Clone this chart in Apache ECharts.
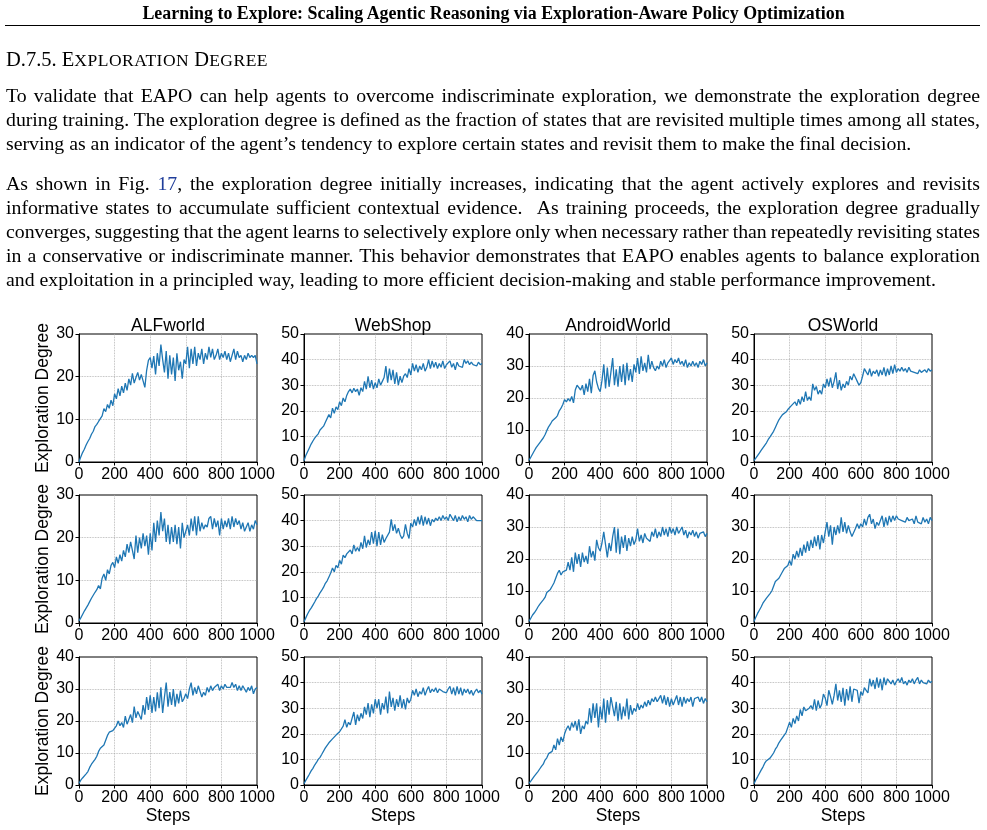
<!DOCTYPE html>
<html>
<head>
<meta charset="utf-8">
<script src="https://cdn.jsdelivr.net/npm/echarts@6/dist/echarts.min.js"></script>
<style>
  body { margin: 0; background: #fff; }
  #chart { position: absolute; left: 0; top: 0; width: 987px; height: 830px; }
  .t { position: absolute; left: 6px; width: 974px; height: 24px; line-height: 24px;
       font-family: 'Liberation Serif', 'Times New Roman', serif; font-size: 19.8px; color: #000; white-space: nowrap; }
  .j { text-align: justify; text-align-last: justify; white-space: normal; }
  .tight { word-spacing: -2.5px; }
  .head { position: absolute; left: 0; top: 3px; width: 987px; text-align: center; line-height: 20px;
          font-family: 'Liberation Serif', 'Times New Roman', serif; font-weight: bold; font-size: 17.9px; }
  .rule { position: absolute; left: 5px; top: 25px; width: 975px; border-top: 1.5px solid #000; }
  .sec { position: absolute; left: 6px; top: 47px; line-height: 24px; white-space: nowrap;
         font-family: 'Liberation Serif', 'Times New Roman', serif; font-size: 20.5px; }
  .sc { font-size: 17.5px; letter-spacing: 0.5px; }
  .ref { color: #1f3d9a; }
</style>
</head>
<body>
<div id="chart"></div>
<div class="head">Learning to Explore: Scaling Agentic Reasoning via Exploration-Aware Policy Optimization</div>
<div class="rule"></div>
<div class="sec">D.7.5. E<span class="sc">XPLORATION</span> D<span class="sc">EGREE</span></div>
<div class="t j" style="top:83px">To validate that EAPO can help agents to overcome indiscriminate exploration, we demonstrate the exploration degree</div>
<div class="t j" style="top:107px">during training. The exploration degree is defined as the fraction of states that are revisited multiple times among all states,</div>
<div class="t" style="top:131px">serving as an indicator of the agent’s tendency to explore certain states and revisit them to make the final decision.</div>
<div class="t j" style="top:171px">As shown in Fig. <span class="ref">17</span>, the exploration degree initially increases, indicating that the agent actively explores and revisits</div>
<div class="t j" style="top:195px">informative states to accumulate sufficient contextual evidence. &nbsp;As training proceeds, the exploration degree gradually</div>
<div class="t j tight" style="top:219px">converges, suggesting that the agent learns to selectively explore only when necessary rather than repeatedly revisiting states</div>
<div class="t j" style="top:243px">in a conservative or indiscriminate manner. This behavior demonstrates that EAPO enables agents to balance exploration</div>
<div class="t" style="top:267px">and exploitation in a principled way, leading to more efficient decision-making and stable performance improvement.</div>
<script>
// x positions: one reading every 10 steps
const steps = [];
for (let s = 0; s <= 1000; s += 10) steps.push(s);

const titles = ['ALFworld', 'WebShop', 'AndroidWorld', 'OSWorld'];
const yMax = [[30, 50, 40, 50], [30, 50, 40, 40], [40, 50, 40, 50]];

// row 1
const alfworld1 = [0,1.2,2.2,3.0,4.0,4.8,5.5,6.5,7.2,8.3,8.8,9.5,9.2,10.8,12.5,11.8,13.5,12.6,14.5,13.2,
  16.0,14.8,17.2,15.5,17.8,16.2,18.5,16.8,19.5,18.0,20.8,18.5,19.8,21.0,19.2,20.5,19.0,17.5,21.5,23.8,
  24.5,22.0,24.8,20.5,25.5,22.5,27.5,24.0,21.0,26.0,19.5,25.0,20.5,24.5,19.0,25.5,21.5,23.5,19.5,24.0,
  23.0,27.0,22.0,26.5,23.0,27.0,22.5,25.5,24.0,26.5,23.0,25.5,24.0,27.0,24.5,26.5,24.0,25.0,26.5,24.0,
  25.5,24.5,26.0,24.0,25.5,23.5,25.0,26.5,24.0,26.0,24.5,25.0,23.5,25.0,24.0,25.5,24.5,25.0,24.5,25.0,23.0];
const webshop1 = [0.5,2.5,4.0,5.5,7.0,8.2,9.3,10.2,11.0,12.5,13.2,14.0,15.5,16.2,18.5,17.2,21.0,19.0,21.5,20.5,
  23.5,22.0,25.0,23.5,26.0,27.5,28.5,27.0,28.8,27.5,28.5,26.0,29.0,27.5,31.5,28.5,33.5,29.0,32.0,28.5,
  31.0,29.0,32.5,30.0,31.5,33.0,37.5,31.0,36.5,32.0,36.0,30.5,35.0,30.0,33.5,31.0,33.5,34.5,33.0,36.5,
  34.0,38.5,35.5,38.0,35.0,37.5,36.0,38.5,35.5,37.0,40.0,36.5,39.5,37.0,39.0,36.5,38.5,37.0,39.5,36.5,
  38.0,37.5,39.5,37.0,38.5,36.0,39.0,37.5,38.0,37.0,40.0,38.5,39.5,38.0,39.0,38.0,38.5,37.5,39.0,38.0,38.5];
const android1 = [0.5,1.5,2.5,3.5,4.5,5.0,6.0,6.5,7.5,8.5,9.8,11.0,11.8,12.8,12.5,13.8,14.5,16.0,16.8,18.0,
  19.5,18.8,19.8,19.0,20.5,18.5,22.5,24.0,23.5,22.5,24.0,21.0,24.5,22.0,26.0,21.5,27.0,28.5,25.0,23.0,
  22.0,25.5,30.5,23.0,29.5,23.5,28.0,32.5,24.0,29.0,23.5,30.0,25.0,30.5,24.0,31.0,25.5,29.0,25.0,30.5,
  28.0,32.5,27.5,33.0,28.5,31.0,28.0,33.5,29.0,31.5,29.5,28.5,30.0,29.0,31.5,30.0,32.0,29.5,31.0,30.5,
  32.5,30.5,32.0,31.0,32.5,30.5,31.5,30.0,32.0,29.5,31.0,30.0,31.5,30.0,31.0,29.5,31.5,30.5,32.0,30.0,31.0];
const osworld1 = [0.5,1.5,2.5,3.5,4.5,5.5,6.5,7.5,8.8,9.8,10.5,12.0,13.5,15.0,16.5,17.5,18.5,17.8,19.5,20.5,
  21.0,22.0,21.5,23.5,22.0,24.5,22.5,25.5,23.5,27.5,24.0,25.5,24.0,30.5,28.0,29.5,26.5,28.0,26.5,30.5,
  29.0,32.5,29.5,33.0,29.0,31.5,35.0,28.5,32.0,28.0,30.5,29.0,31.5,30.0,33.5,32.0,34.5,33.0,31.5,30.0,
  31.0,33.5,36.5,37.0,34.0,36.5,33.5,35.5,34.5,36.0,33.5,36.0,34.0,37.0,33.5,36.5,34.0,37.5,34.5,38.0,
  35.0,36.5,35.5,37.0,35.5,36.5,35.0,37.0,35.5,36.0,35.0,35.5,34.5,36.0,35.0,34.5,36.0,35.0,36.5,35.5,36.0];

// row 2
const alfworld2 = [0.5,1.2,2.0,2.8,3.5,4.2,5.0,5.8,6.5,7.2,7.8,8.8,8.0,10.5,11.5,10.0,12.5,11.5,13.5,14.2,
  13.0,15.5,14.0,16.0,14.5,17.0,15.5,18.5,16.5,19.0,17.0,15.0,20.5,16.5,20.0,17.5,21.0,18.0,20.5,16.0,
  21.0,17.0,23.5,19.0,24.0,20.5,26.0,21.5,24.5,19.0,23.0,18.5,22.5,19.0,23.0,18.5,22.5,17.5,23.5,20.0,
  21.5,23.0,20.5,24.5,21.5,25.0,20.5,25.0,21.5,23.5,22.0,23.0,22.5,24.5,25.0,22.0,24.5,22.5,24.0,20.5,
  24.5,22.0,24.0,22.5,24.5,22.0,25.0,22.5,24.5,23.0,24.0,22.0,23.5,21.5,22.5,23.5,21.5,23.0,22.0,24.0,23.0];
const webshop2 = [0.5,2.0,3.5,4.8,5.8,7.0,8.2,9.5,10.5,11.8,12.8,14.0,15.5,16.5,18.0,19.5,21.5,20.0,22.5,21.5,
  24.5,23.0,26.5,25.5,27.0,26.5,28.5,27.0,30.5,28.0,29.5,28.0,31.5,29.0,34.0,29.5,32.5,30.5,35.5,31.0,
  36.0,30.0,35.5,30.5,34.5,31.5,33.0,32.5,35.5,40.5,36.0,38.5,35.0,37.0,34.5,33.0,34.0,38.5,35.0,33.0,
  39.0,37.5,40.5,38.0,41.5,38.5,42.0,38.0,41.5,38.5,41.0,38.0,40.5,39.5,41.0,40.0,41.5,40.0,42.0,40.5,
  41.5,40.0,42.5,43.0,40.0,42.0,39.5,41.5,40.0,42.0,40.5,41.5,39.5,42.0,40.5,41.5,41.0,40.0,40.5,40.0,40.0];
const android2 = [0.5,1.5,2.5,3.2,4.0,5.0,5.8,6.5,7.2,8.0,9.5,9.8,10.5,11.5,12.5,14.0,15.5,16.5,15.0,16.0,
  15.5,16.5,19.0,16.5,20.5,16.0,22.0,18.5,21.5,17.5,22.0,19.0,21.0,18.5,24.0,20.5,22.5,19.5,26.0,23.5,
  22.5,25.0,28.5,24.5,20.5,25.0,22.5,27.0,30.0,22.0,29.5,21.5,27.0,23.5,27.5,22.5,26.5,24.0,27.0,24.5,
  26.0,29.5,25.5,27.5,25.0,28.0,26.5,27.0,25.5,28.5,27.0,29.5,26.5,28.5,27.0,30.0,27.5,29.5,27.0,30.0,
  28.0,29.5,27.5,30.0,28.0,29.0,30.0,27.5,29.0,26.5,28.5,27.5,29.0,27.0,28.5,26.5,28.0,27.5,28.5,27.0,28.0];
const osworld2 = [0.5,1.8,3.0,4.0,5.0,6.2,7.0,7.8,8.5,9.2,10.0,11.5,13.0,12.5,14.0,14.5,16.0,17.0,16.5,18.0,
  19.5,18.0,21.5,20.0,22.5,20.5,23.5,21.0,24.5,22.0,25.5,22.5,26.0,23.5,27.0,24.0,27.5,23.0,27.5,25.0,
  28.5,31.5,27.0,30.5,24.5,30.0,27.5,30.5,28.0,33.0,28.5,31.5,28.0,30.5,28.5,27.0,26.5,29.5,31.0,29.5,
  31.0,30.0,32.5,30.5,33.0,34.0,31.0,32.5,29.5,31.5,30.5,32.0,33.5,30.0,33.0,30.5,33.5,31.5,33.5,32.0,
  33.5,32.5,33.0,32.0,32.5,31.5,33.0,32.0,31.5,32.5,31.0,33.5,31.5,32.0,31.0,33.0,31.5,32.5,31.0,33.0,32.0];

// row 3
const alfworld3 = [0.5,1.5,2.2,2.8,3.5,4.2,5.5,6.5,7.0,8.0,9.0,10.5,11.5,12.0,12.5,14.0,15.5,16.5,16.0,17.0,
  17.5,18.5,20.0,18.5,19.5,18.0,21.5,19.0,20.5,22.0,19.5,24.5,21.0,23.0,22.5,20.5,25.0,22.0,27.5,23.5,
  28.0,22.5,27.5,23.0,29.0,24.0,30.5,22.5,27.5,32.0,24.5,29.0,25.0,30.0,24.5,28.5,25.5,29.5,26.0,27.0,
  28.5,27.0,30.0,32.0,28.0,30.5,28.5,31.0,31.5,27.5,29.0,28.0,30.5,29.0,31.0,29.5,30.5,30.0,31.5,29.5,
  31.0,30.0,31.5,30.5,31.0,30.5,32.0,30.5,31.5,29.5,31.0,29.5,31.0,30.0,29.0,30.5,29.5,31.0,28.5,30.0,30.5];
const webshop3 = [0.5,1.8,3.0,4.2,5.5,6.5,7.8,8.8,10.0,10.8,12.0,12.5,14.5,15.0,16.5,17.0,18.0,18.5,19.5,20.0,
  20.8,21.5,23.0,25.5,22.5,24.5,23.5,26.0,28.5,23.5,27.5,25.0,28.0,26.0,30.5,27.5,32.0,26.5,31.5,28.0,
  33.5,30.0,33.5,27.5,32.0,29.5,34.5,28.0,36.5,30.5,34.0,29.0,33.5,30.5,35.0,30.0,33.5,29.5,34.0,32.0,
  33.5,37.0,35.0,37.5,34.5,36.5,35.5,38.0,35.0,37.0,38.5,36.0,37.5,36.5,38.0,36.0,37.5,37.0,36.5,37.0,
  36.0,37.5,38.5,35.5,38.0,35.0,38.5,35.5,38.0,35.0,37.5,36.0,37.5,35.5,37.0,35.0,36.5,37.5,36.0,37.0,35.5];
const android3 = [0.5,1.2,2.0,2.8,3.5,4.2,5.0,5.8,6.5,7.8,8.5,9.8,10.0,10.5,12.5,11.0,14.5,12.5,15.0,13.5,
  16.0,17.5,18.5,17.0,19.5,18.0,20.0,17.0,20.5,16.0,18.5,17.5,20.0,19.0,24.0,19.5,25.5,21.0,25.5,18.0,
  24.5,20.5,27.0,19.5,26.5,22.0,27.5,28.0,21.5,26.0,20.0,25.5,20.5,24.5,21.5,27.0,20.5,25.0,22.0,24.0,
  23.0,25.5,23.5,25.0,24.0,26.0,24.5,26.5,25.0,27.0,26.0,27.5,26.0,27.0,28.0,25.5,28.0,25.0,27.5,24.5,
  27.0,25.0,26.5,28.0,25.0,27.5,24.5,27.5,25.5,27.0,26.0,27.5,24.5,27.0,26.5,27.5,26.0,27.5,25.5,27.0,26.0];
const osworld3 = [0.5,2.0,3.2,4.5,5.8,7.0,8.5,9.5,10.0,10.5,11.5,12.5,14.0,15.0,16.5,17.5,18.5,19.5,20.5,22.5,
  24.5,22.5,26.0,24.0,27.0,25.0,29.5,27.0,30.5,29.0,28.5,30.0,31.0,29.5,33.5,29.0,33.0,30.0,31.5,35.5,
  34.0,31.0,37.0,34.5,31.5,35.0,39.5,33.0,37.0,32.5,38.0,31.0,37.5,33.0,38.5,32.5,37.5,38.0,37.0,32.0,
  36.5,35.0,38.0,37.0,36.0,41.5,38.5,41.0,37.5,42.0,38.0,41.5,37.0,42.0,39.0,41.5,42.0,39.5,41.0,39.0,
  40.5,41.5,40.0,42.0,39.5,40.5,39.0,41.0,40.0,41.5,39.5,41.0,42.0,39.5,41.0,40.0,40.5,39.5,41.0,40.0,40.5];

const runs = [
  [alfworld1, webshop1, android1, osworld1],
  [alfworld2, webshop2, android2, osworld2],
  [alfworld3, webshop3, android3, osworld3]
];

const colLeft = [79, 304, 529, 754];
const rowTop = [334, 495, 657];
const plotW = 178, plotH = 128;
const sans = "'Liberation Sans', Arial, sans-serif";

const grid = [], xAxis = [], yAxis = [], series = [], title = [];

for (let r = 0; r < 3; r++) {
  for (let c = 0; c < 4; c++) {
    const k = grid.length;
    grid.push({
      left: colLeft[c], top: rowTop[r], width: plotW, height: plotH,
      show: true, borderColor: '#000', borderWidth: 1, backgroundColor: 'transparent'
    });
    xAxis.push({
      type: 'value', gridIndex: k, min: 0, max: 1000, interval: 200,
      name: r === 2 ? 'Steps' : '', nameLocation: 'middle', nameGap: 22,
      nameTextStyle: { color: '#000', fontSize: 17.5, fontFamily: sans },
      axisLine: { show: true, lineStyle: { color: '#000', width: 1 } },
      axisTick: { show: true, length: 3.5, lineStyle: { color: '#000' } },
      axisLabel: { color: '#000', fontSize: 16, fontFamily: sans, margin: 5, formatter: v => String(v) },
      splitLine: { show: true, showMinLine: false, showMaxLine: false,
                   lineStyle: { color: '#aaa', width: 0.8, type: 'dotted' } }
    });
    yAxis.push({
      type: 'value', gridIndex: k, min: 0, max: yMax[r][c], interval: 10,
      name: c === 0 ? 'Exploration Degree' : '', nameLocation: 'middle', nameGap: 26,
      nameTextStyle: { color: '#000', fontSize: 17.5, fontFamily: sans },
      axisLine: { show: true, lineStyle: { color: '#000', width: 1 } },
      axisTick: { show: true, length: 3.5, lineStyle: { color: '#000' } },
      axisLabel: { color: '#000', fontSize: 16, fontFamily: sans, margin: 5, formatter: v => String(v) },
      splitLine: { show: true, showMinLine: false, showMaxLine: false,
                   lineStyle: { color: '#aaa', width: 0.8, type: 'dotted' } }
    });
    series.push({
      type: 'line', xAxisIndex: k, yAxisIndex: k,
      data: steps.map((s, i) => [s, runs[r][c][i]]),
      showSymbol: false, symbol: 'none',
      lineStyle: { color: '#1f77b4', width: 1.3 }
    });
    if (r === 0) {
      title.push({
        text: titles[c], left: colLeft[c] + plotW / 2, top: 317, textAlign: 'center', padding: 0,
        textStyle: { color: '#000', fontSize: 17.5, fontWeight: 'normal', fontFamily: sans }
      });
    }
  }
}

const chart = echarts.init(document.getElementById('chart'));
chart.setOption({ animation: false, title, grid, xAxis, yAxis, series });
</script>
</body>
</html>
